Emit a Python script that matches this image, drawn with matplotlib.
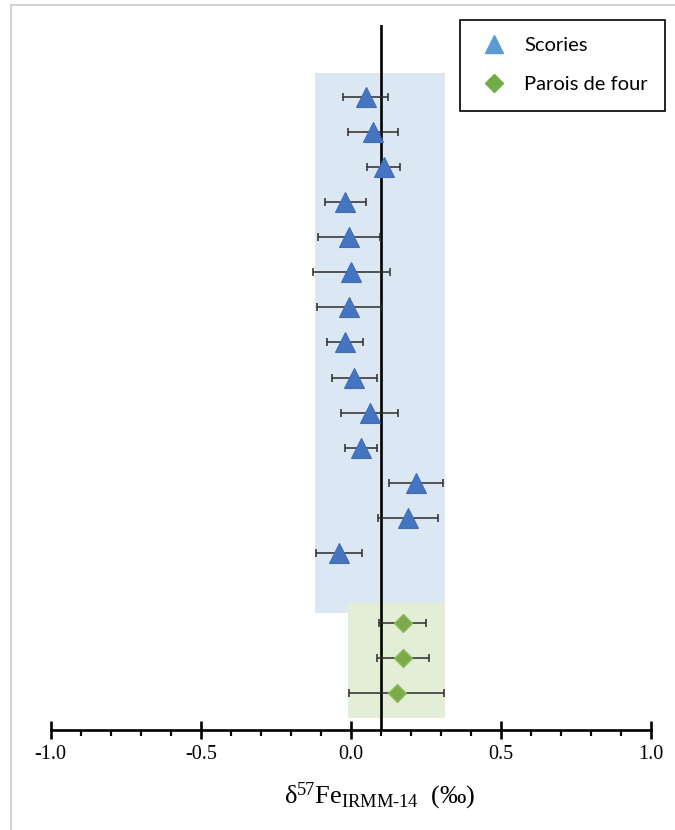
import matplotlib
matplotlib.use('Agg')
import matplotlib.pyplot as plt
from matplotlib.lines import Line2D

# scories (slag) - row position and delta57Fe with 2sd
scories_rows = [1, 2, 3, 4, 5, 6, 7, 8, 9, 10, 11, 12, 13, 14]
scories_val = [0.049, 0.074, 0.109, -0.018, -0.005, 0.002, -0.005,
               -0.019, 0.012, 0.063, 0.035, 0.217, 0.190, -0.039]
scories_err = [0.076, 0.084, 0.054, 0.068, 0.103, 0.127, 0.108,
               0.061, 0.074, 0.095, 0.053, 0.089, 0.101, 0.077]

# parois de four (furnace walls)
parois_rows = [16, 17, 18]
parois_val = [0.173, 0.174, 0.153]
parois_err = [0.079, 0.088, 0.158]

# shaded ranges (x min, x max)
scories_range = [-0.12, 0.313]
parois_range = [-0.01, 0.313]
ref_line = 0.1

plt.rcParams['mathtext.fontset'] = 'custom'
plt.rcParams['mathtext.rm'] = 'Liberation Serif'
plt.rcParams['mathtext.it'] = 'Liberation Serif:italic'

fig = plt.figure(figsize=(6.75, 8.3), dpi=100)
ax = fig.add_axes([50.7 / 675, 1 - 730 / 830, 600.3 / 675, 705 / 830])

# light grey frame of the original screenshot
fig.add_artist(Line2D([11 / 675, 11 / 675], [0, 1 - 5 / 830], color='#d4d4d4', lw=1.5))
fig.add_artist(Line2D([11 / 675, 1], [1 - 5 / 830, 1 - 5 / 830], color='#d4d4d4', lw=1.5))

ax.fill_betweenx([0.316, 15.71], scories_range[0], scories_range[1],
                 color='#dce7f4', lw=0, zorder=0)
ax.fill_betweenx([15.43, 18.71], parois_range[0], parois_range[1],
                 color='#e3eed6', lw=0, zorder=0.5)

ax.axvline(ref_line, color='black', lw=1.9, zorder=1)

ax.errorbar(scories_val, scories_rows, xerr=scories_err, fmt='none',
            ecolor='#2b2b2b', elinewidth=1.1, capsize=2.8, capthick=1.1, zorder=2)
ax.plot(scories_val, scories_rows, '^', ms=14, color='#4575c0',
        mec='#3f6cb5', mew=0.8, zorder=3)

ax.errorbar(parois_val, parois_rows, xerr=parois_err, fmt='none',
            ecolor='#2b2b2b', elinewidth=1.1, capsize=2.8, capthick=1.1, zorder=2)
ax.plot(parois_val, parois_rows, 'D', ms=9.5, color='#7aab48',
        mec='#8fbc5a', mew=1, zorder=3)

ax.set_xlim(-1.0, 1.0)
ax.set_ylim(19.05, -1.053)

ax.set_xticks([-1.0, -0.5, 0.0, 0.5, 1.0])
ax.set_xticklabels(['-1.0', '-0.5', '0.0', '0.5', '1.0'],
                   family='Liberation Serif', fontsize=14.5)
ax.set_xticks([-0.9, -0.8, -0.7, -0.6, -0.4, -0.3, -0.2, -0.1,
               0.1, 0.2, 0.3, 0.4, 0.6, 0.7, 0.8, 0.9], minor=True)
ax.tick_params(axis='x', which='major', direction='inout', length=13, width=1.9, pad=4)
ax.tick_params(axis='x', which='minor', direction='out', length=4, width=1.6)
ax.set_yticks([])
for s in ['left', 'right', 'top']:
    ax.spines[s].set_visible(False)
ax.spines['bottom'].set_linewidth(1.9)
ax.patch.set_alpha(0)

fig.text(380 / 675, 1 - 796 / 830,
         'δ$^{57}$Fe$_{\\mathrm{IRMM\\text{-}14}}$  (‰)',
         ha='center', va='center', fontsize=19, family='Liberation Serif')

handles = [
    Line2D([], [], marker='^', ls='none', ms=13, color='#5b9bd5', mec='#5b9bd5'),
    Line2D([], [], marker='D', ls='none', ms=9, color='#70ad47', mec='#70ad47'),
]
leg = ax.legend(handles, ['Scories', 'Parois de four'], loc='upper left',
                bbox_to_anchor=(460 / 675, 1 - 20 / 830), bbox_transform=fig.transFigure,
                prop={'family': 'Lato', 'size': 14.5}, frameon=True, fancybox=False,
                edgecolor='black', framealpha=1, borderpad=0.85, labelspacing=1.1,
                handletextpad=0.65, handlelength=1.7, borderaxespad=0)
leg.get_frame().set_linewidth(1.2)

fig.savefig('out.png', dpi=100, facecolor='white')
